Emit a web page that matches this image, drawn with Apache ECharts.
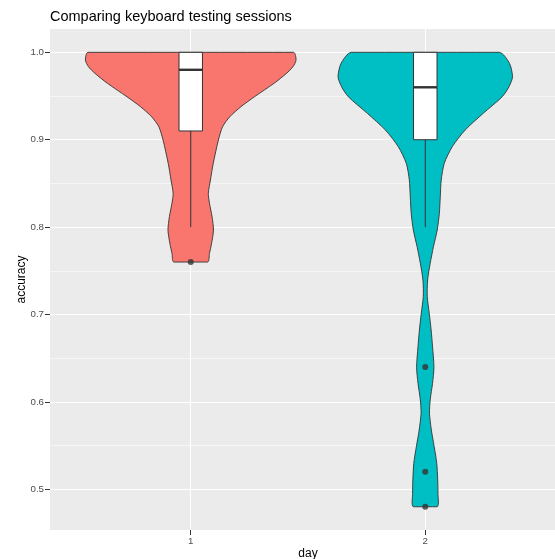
<!DOCTYPE html>
<html><head><meta charset="utf-8">
<script src="https://cdn.jsdelivr.net/npm/echarts@6/dist/echarts.min.js"></script>
<style>html,body{margin:0;padding:0;background:#fff}#c{width:555px;height:559px}</style>
</head><body><div id="c"></div>
<script>
// categories
const days = [1, 2];
const dayLabels = ['1', '2'];
const fillColors = ['#F8766D', '#00BFC4'];
// violin profiles: [accuracy, half-width in day units]
const violinDay1 = [
  [1.000,0.438],[0.9912,0.449],[0.9836,0.436],[0.9759,0.408],[0.9645,0.355],
  [0.9492,0.272],[0.9378,0.214],[0.9264,0.167],[0.9149,0.136],[0.8997,0.118],
  [0.8730,0.096],[0.8539,0.084],[0.8386,0.075],[0.8272,0.080],[0.8119,0.091],
  [0.7967,0.097],[0.7814,0.089],[0.7700,0.080],[0.7600,0.072]
];
const violinDay2 = [
  [1.000,0.316],[0.9874,0.359],[0.9721,0.372],[0.9607,0.357],[0.9492,0.328],
  [0.9302,0.247],[0.9111,0.170],[0.8920,0.115],[0.8730,0.081],[0.8539,0.068],
  [0.8348,0.064],[0.8158,0.060],[0.7967,0.051],[0.7777,0.035],[0.7586,0.021],
  [0.7395,0.010],[0.7204,0.0085],[0.7013,0.017],[0.6823,0.025],[0.6632,0.031],
  [0.6396,0.037],[0.6213,0.031],[0.6022,0.021],[0.5869,0.018],[0.5678,0.026],
  [0.5488,0.038],[0.5297,0.049],[0.5107,0.053],[0.4954,0.054],[0.4800,0.051]
];
// boxplot stats: [lowWhisker, q1, median, q3, highWhisker]
const boxDay1 = [0.80, 0.91, 0.98, 1.00, 1.00];
const boxDay2 = [0.80, 0.90, 0.96, 1.00, 1.00];
// outliers: [day, accuracy]
const outlierPoints = [[1,0.76],[2,0.64],[2,0.52],[2,0.48]];
// tick labels
const yTicks = [0.5, 0.6, 0.7, 0.8, 0.9, 1.0];
const yMinor = [0.55, 0.65, 0.75, 0.85, 0.95];

const violins = [violinDay1, violinDay2];
const boxes = [boxDay1, boxDay2];
const FONT = "'Liberation Sans', Arial, Helvetica, sans-serif";
const Y_MIN = 0.4534, Y_MAX = 1.0267;
const BOX_HW = 0.05;

const chart = echarts.init(document.getElementById('c'), null, {renderer: 'canvas'});
chart.setOption({
  animation: false,
  textStyle: {fontFamily: FONT},
  title: {
    text: 'Comparing keyboard testing sessions',
    left: 50, top: 9, padding: 0,
    textStyle: {fontSize: 14.5, fontWeight: 'normal', color: '#000', fontFamily: FONT}
  },
  grid: {left: 50, top: 29, width: 516, height: 501, show: true, backgroundColor: '#EBEBEB', borderWidth: 0, outerBoundsMode: 'none', containLabel: false},
  xAxis: [{
    type: 'value', min: 0.4, max: 2.6,
    axisLine: {show: false},
    axisTick: {show: true, customValues: days, length: 5, lineStyle: {color: '#333', width: 1}},
    axisLabel: {customValues: days, formatter: function (v) { const j = days.indexOf(v); return j >= 0 ? dayLabels[j] : String(v); }, color: '#4D4D4D', fontSize: 9.7, margin: 6, fontFamily: FONT},
    splitLine: {show: true, lineStyle: {color: '#fff', width: 1.1}},
    name: 'day', nameLocation: 'middle', nameGap: 18, nameMoveOverlap: false,
    nameTextStyle: {color: '#000', fontSize: 12, fontFamily: FONT}
  }],
  yAxis: [{
    type: 'value', min: Y_MIN, max: Y_MAX,
    axisLine: {show: false},
    axisTick: {show: true, customValues: yTicks, length: 5, lineStyle: {color: '#333', width: 1}},
    axisLabel: {customValues: yTicks, formatter: function (v) { return Number(v).toFixed(1); }, color: '#4D4D4D', fontSize: 9.7, margin: 6, fontFamily: FONT},
    splitLine: {show: true, lineStyle: {color: '#fff', width: 1.1}},
    name: 'accuracy', nameLocation: 'middle', nameGap: 22, nameRotate: 90, nameMoveOverlap: false,
    nameTextStyle: {color: '#000', fontSize: 12, fontFamily: FONT}
  }, {
    type: 'value', min: Y_MIN, max: Y_MAX, position: 'left',
    axisLine: {show: false},
    axisTick: {show: false, customValues: yMinor},
    axisLabel: {show: false, customValues: yMinor},
    splitLine: {show: true, lineStyle: {color: '#fff', width: 0.55}}
  }],
  series: [{
    type: 'custom',
    xAxisIndex: 0, yAxisIndex: 0,
    data: days.map(d => [d, 1]),
    encode: {x: 0, y: 1},
    z: 2,
    renderItem: function (params, api) {
      const i = params.dataIndex;
      const prof = violins[i];
      const cx = days[i];
      const pts = [];
      for (let k = 0; k < prof.length; k++) pts.push(api.coord([cx + prof[k][1], prof[k][0]]));
      for (let k = prof.length - 1; k >= 0; k--) pts.push(api.coord([cx - prof[k][1], prof[k][0]]));
      let x0 = Infinity, y0 = Infinity, x1 = -Infinity, y1 = -Infinity;
      pts.forEach(p => { x0 = Math.min(x0, p[0]); y0 = Math.min(y0, p[1]); x1 = Math.max(x1, p[0]); y1 = Math.max(y1, p[1]); });
      return {
        type: 'polygon',
        shape: {points: pts, smooth: 0.25, smoothConstraint: [[x0, y0], [x1, y1]]},
        style: {fill: fillColors[i], stroke: '#333333', lineWidth: 0.9}
      };
    }
  }, {
    type: 'custom',
    xAxisIndex: 0, yAxisIndex: 0,
    data: days.map(d => [d, 1]),
    encode: {x: 0, y: 1},
    z: 3,
    renderItem: function (params, api) {
      const i = params.dataIndex;
      const b = boxes[i];
      const c = days[i];
      const tl = api.coord([c - BOX_HW, b[3]]);
      const br = api.coord([c + BOX_HW, b[1]]);
      const ml = api.coord([c - BOX_HW, b[2]]);
      const mr = api.coord([c + BOX_HW, b[2]]);
      const wLow1 = api.coord([c, b[1]]), wLow2 = api.coord([c, b[0]]);
      return {
        type: 'group',
        children: [
          {type: 'line', shape: {x1: wLow1[0], y1: wLow1[1], x2: wLow2[0], y2: wLow2[1]}, style: {stroke: '#333333', lineWidth: 1}},
          {type: 'rect', shape: {x: tl[0], y: tl[1], width: br[0] - tl[0], height: br[1] - tl[1]}, style: {fill: '#FFFFFF', stroke: '#333333', lineWidth: 1}},
          {type: 'line', shape: {x1: ml[0], y1: ml[1], x2: mr[0], y2: mr[1]}, style: {stroke: '#333333', lineWidth: 2.4}}
        ]
      };
    }
  }, {
    type: 'scatter',
    xAxisIndex: 0, yAxisIndex: 0,
    data: outlierPoints,
    symbol: 'circle', symbolSize: 6,
    itemStyle: {color: '#333333'},
    z: 4,
    silent: true
  }]
});
</script>
</body></html>
